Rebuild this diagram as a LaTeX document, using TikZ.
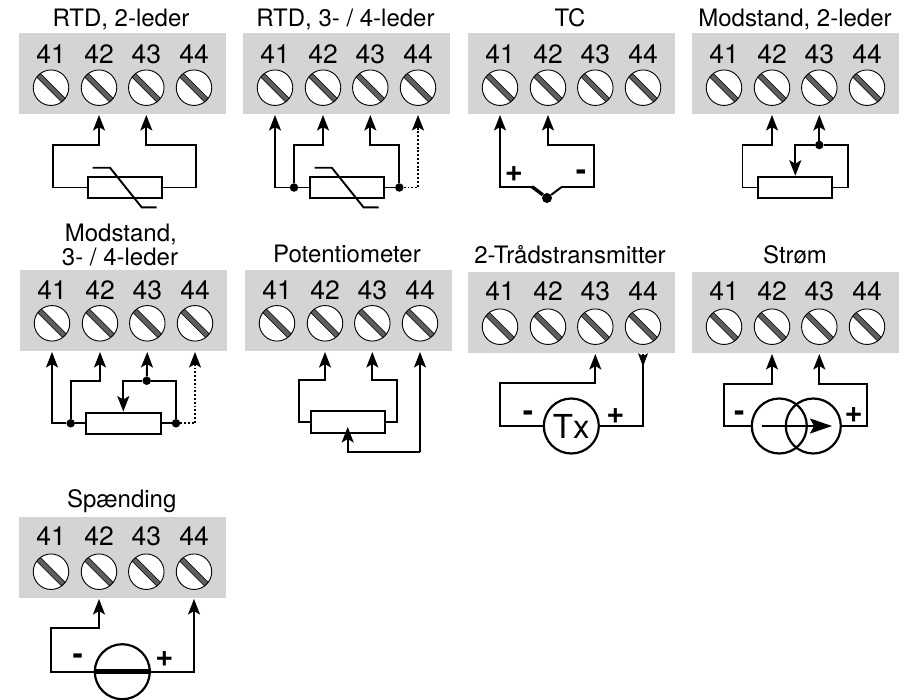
\documentclass[tikz,border=0pt]{standalone}
\usepackage{fontspec}
\setmainfont{TeX Gyre Heros}
\usetikzlibrary{arrows.meta,calc}
\definecolor{blockgray}{HTML}{D4D4D4}
\definecolor{slotgray}{HTML}{5E5E5E}
\tikzset{
  wire/.style={line width=1.9pt,-{Stealth[length=15.5pt,width=12pt,inset=3.5pt]}},
  plainwire/.style={line width=1.9pt},
  thinwire/.style={line width=1.2pt,-{Stealth[length=15.5pt,width=12pt,inset=3.5pt]}},
  dotwire/.style={line width=1.9pt,dash pattern=on 1.9pt off 1.9pt},
  block/.style={fill=blockgray,draw=none,anchor=north west,minimum width=207pt,minimum height=81pt,inner sep=0pt,outer sep=0pt},
  num/.style={anchor=base,inner sep=0pt,font=\fontsize{26.5pt}{26.5pt}\selectfont},
  ttl/.style={anchor=base,inner sep=0pt,font=\fontsize{24pt}{24pt}\selectfont},
  sign/.style={inner sep=0pt,font=\fontsize{31pt}{31pt}\selectfont\bfseries},
  screw/.style={circle,draw=black,line width=0.9pt,fill=white,minimum size=35.5pt,inner sep=0pt,
    path picture={
      \draw[line width=5.8pt,black] (path picture bounding box.north west)--(path picture bounding box.south east);
      \draw[line width=4.4pt,slotgray] (path picture bounding box.north west)--(path picture bounding box.south east);
    }},
  res/.style={draw=black,line width=2pt,fill=white,minimum width=74.5pt,minimum height=21.5pt,inner sep=0pt},
  jdot/.style={circle,fill=black,minimum size=8.5pt,inner sep=0pt},
  src/.style={circle,draw=black,line width=2.2pt,minimum size=55pt,inner sep=0pt},
}
\newcommand{\panelbase}[2]{%
  \node[block] (b) at (0,0) {};
  \foreach \i/\xx in {1/32,2/80,3/127.3,4/175}{
    \node[num] (n\i) at (\xx,#1) {4\i};
    \node[screw] (s\i) at (\xx,#2) {};
    \coordinate (t\i) at (\xx,82);
  }}
\newcommand{\panel}[6]{%
  \begin{scope}[shift={(#2,#3)},name prefix=#1-]
  \panelbase{#4}{#5}
  #6
  \end{scope}}
\begin{document}
\begin{tikzpicture}[x=1pt,y=-1pt]
\useasboundingbox (0,0) rectangle (912,699);
\fill[white] (0,0) rectangle (912,699);

% RTD, 2-leder
\panel{a}{19}{33}{30.3}{54.7}{
  \node[ttl] (title) at (102,-6.5) {RTD, 2-leder};
  \node[res] (r) at (106,154.5) {};
  \coordinate (k1) at (34.3,112);
  \coordinate (k2) at (177,112);
  \draw[wire] (r.west) -| (k1) -| (t2);
  \draw[wire] (r.east) -| (k2) -| (t3);
  \coordinate (z1) at (73.7,134.7); \coordinate (z2) at (91,134.7);
  \coordinate (z3) at (122.7,174.3); \coordinate (z4) at (137.7,174.3);
  \draw[plainwire] (z1)--(z2)--(z3)--(z4);
}

% RTD, 3-/4-leder
\panel{c}{243}{33}{30.3}{54.7}{
  \node[ttl] (title) at (102.5,-6.5) {RTD, 3- / 4-leder};
  \node[res] (r) at (103.8,154.5) {};
  \node[jdot] (d1) at (51,154.5) {};
  \node[jdot] (d2) at (156.3,154.5) {};
  \coordinate (k1) at (51,112);
  \coordinate (k2) at (156.3,112);
  \coordinate (k3) at (175,154.5);
  \draw[plainwire] (d1)--(r.west) (r.east)--(d2);
  \draw[wire] (d1) -| (t1);
  \draw[wire] (d1) -- (k1) -| (t2);
  \draw[wire] (d2) -- (k2) -| (t3);
  \draw[dotwire] (d2) -- (k3) -- ($(t4)+(0,12)$);
  \draw[wire] ($(t4)+(0,14)$) -- (t4);
  \coordinate (z1) at (71.5,134.7); \coordinate (z2) at (88.8,134.7);
  \coordinate (z3) at (120.5,174.3); \coordinate (z4) at (135.5,174.3);
  \draw[plainwire] (z1)--(z2)--(z3)--(z4);
}

% TC
\panel{e}{468}{33}{30.3}{54.7}{
  \node[ttl] (title) at (102,-6.5) {TC};
  \node[jdot,minimum size=10pt] (j) at (79,165) {};
  \coordinate (j1) at (64,153.7);
  \coordinate (j2) at (94,153.7);
  \coordinate (k) at (126.3,112);
  \draw[wire] (j1) -| (t1);
  \draw[wire] (j2) -| (k) -| (t2);
  \draw[line width=3.4pt] (j1)--(j);
  \draw[line width=2pt] (j)--(j2);
  \node[sign] (plus) at (46,141.5) {+};
  \node[sign] (minus) at (113,142) {-};
}

% Modstand, 2-leder
\panel{g}{692}{33}{30.3}{54.7}{
  \node[ttl] (title) at (103,-6.5) {Modstand, 2-leder};
  \node[res] (r) at (103,154.5) {};
  \node[jdot] (d) at (127.3,112) {};
  \coordinate (k1) at (50.7,112);
  \coordinate (k2) at (103.3,112);
  \coordinate (k3) at (156,112);
  \draw[thinwire] (r.west) -| (k1) -| (t2);
  \draw[wire] (d) -- (t3);
  \draw[plainwire] (r.east) -| (k3) -- (d);
  \draw[wire] (d) -- (k2) -- (r.north -| k2);
}

% Modstand, 3-/4-leder
\panel{i}{20}{270}{29}{53.3}{
  \node[ttl] (title1) at (100.8,-28.3) {Modstand,};
  \node[ttl] (title2) at (100,-5) {3- / 4-leder};
  \node[res] (r) at (103.5,153.3) {};
  \node[jdot] (d1) at (50.7,153.3) {};
  \node[jdot] (d2) at (156,153.3) {};
  \node[jdot] (d3) at (126.7,110.7) {};
  \coordinate (k1) at (50.7,110.7);
  \coordinate (k2) at (103.3,110.7);
  \coordinate (k3) at (156,110.7);
  \coordinate (k4) at (175,153.3);
  \draw[plainwire] (d1)--(r.west) (r.east)--(d2);
  \draw[wire] (d1) -| (t1);
  \draw[wire] (d1) -- (k1) -| (t2);
  \draw[wire] (d3) -- (t3);
  \draw[plainwire] (d2) -- (k3) -- (d3);
  \draw[wire] (d3) -- (k2) -- (r.north -| k2);
  \draw[dotwire] (d2) -- (k4) -- ($(t4)+(0,12)$);
  \draw[wire] ($(t4)+(0,14)$) -- (t4);
}

% Potentiometer
\panel{p}{245}{270}{29}{53.3}{
  \node[ttl] (title) at (102,-7.3) {Potentiometer};
  \node[res] (r) at (103,151.8) {};
  \coordinate (k1) at (54,110.3);
  \coordinate (k2) at (151.7,110.3);
  \coordinate (k3) at (102.7,181.7);
  \coordinate (k4) at (102.7,157);
  \draw[wire] (r.west) -| (k1) -| (t2);
  \draw[wire] (r.east) -| (k2) -| (t3);
  \draw[wire] (t4 |- k3) -- (k3) -- (k4);
  \draw[wire] (t4 |- k3) -- (t4);
}

% 2-Traadstransmitter
\panel{t}{468}{272}{28.5}{54.7}{
  \node[ttl] (title) at (102,-8.7) {2-Trådstransmitter};
  \node[src,font=\fontsize{33pt}{33pt}\selectfont] (c) at (103.3,154) {Tx};
  \coordinate (k1) at (31.7,110.7);
  \coordinate (k2) at (175,154);
  \coordinate (k3) at (175,94.7);
  \draw[wire] (c.west) -| (k1) -| (t3);
  \draw[plainwire] (c.east) -- (k2) -- (t4);
  \draw[line width=0pt,-{Stealth[length=13.5pt,width=10pt,inset=3pt]}] (t4) -- (k3);
  \node[sign] (minus) at (60,144.5) {-};
  \node[sign] (plus) at (147.3,144) {+};
}

% Stroem
\panel{u}{692}{272}{28.5}{54.7}{
  \node[ttl] (title) at (103,-8.7) {Strøm};
  \node[src] (c1) at (87.3,154) {};
  \node[src] (c2) at (121.3,154) {};
  \coordinate (k1) at (32.3,112);
  \coordinate (k2) at (175,112);
  \coordinate (a1) at (70,154);
  \coordinate (a2) at (140,154);
  \draw[wire] (c1.west) -| (k1) -| (t2);
  \draw[wire] (c2.east) -| (k2) -| (t3);
  \draw[line width=1.9pt,-{Stealth[length=22pt,width=15pt,inset=4pt]}] (a1) -- (a2);
  \node[sign] (minus) at (47.3,144) {-};
  \node[sign] (plus) at (161.7,143.5) {+};
}

% Spaending
\panel{v}{19}{517}{28.5}{54.7}{
  \node[ttl] (title) at (102.7,-10) {Spænding};
  \node[src] (c) at (103.3,154.7) {};
  \coordinate (k1) at (31.7,111.3);
  \draw[wire] (c.west) -| (k1) -| (t2);
  \draw[wire] (c.east) -| (t4);
  \draw[line width=4.6pt] (c.west) -- (c.east);
  \node[sign] (minus) at (58.7,142) {-};
  \node[sign] (plus) at (145.3,142.5) {+};
}
\end{tikzpicture}
\end{document}
